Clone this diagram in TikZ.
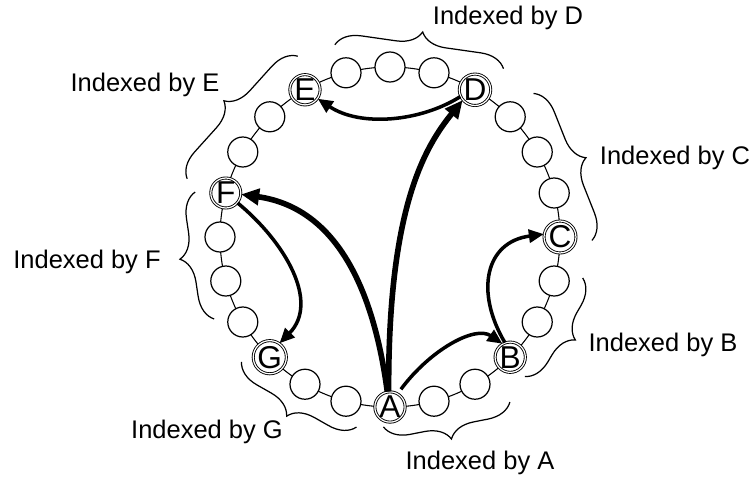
\documentclass[tikz,border=0pt]{standalone}
\usepackage{fontspec}
\setmainfont{Liberation Sans}
\usetikzlibrary{arrows.meta, decorations.pathreplacing}
\tikzset{
  peer/.style={
    circle, draw, fill=white, line width=0.7pt,
    minimum size=0.6cm, inner sep=0pt
  },
  keypeer/.style={
    peer, double, double distance=0.7pt, line width=0.5pt,
    font=\fontsize{18}{20}\selectfont
  },
  ringline/.style={line width=0.6pt},
  bigarrow/.style={line width=3.2pt, -{Triangle[length=0.36cm, width=0.32cm]}},
  arrow/.style={line width=2pt, -{Triangle[length=0.3cm, width=0.26cm]}},
  idxbrace/.style={decorate, decoration={brace, amplitude=0.5cm}, line width=0.7pt},
  idxlabel/.style={font=\fontsize{14.5}{17}\selectfont},
}

\begin{document}
\begin{tikzpicture}[x=0.02cm, y=0.02cm]
  \useasboundingbox (-390,-240) rectangle (363,237);
  \draw [ringline] (0,0) circle [radius=170];

  % plain peers on the ring
  \foreach \i in {1,2,4,5,7,8,9,11,12,13,15,16,18,19,20,22,23}
    \node [peer] (p\i) at ({-90+15*\i}:170) {};

  \node (A) [keypeer] at (-90:170) {A};
  \node (B) [keypeer] at (-45:170) {B};
  \node (C) [keypeer] at (0:170)   {C};
  \node (D) [keypeer] at (60:170)  {D};
  \node (E) [keypeer] at (120:170) {E};
  \node (F) [keypeer] at (165:170) {F};
  \node (G) [keypeer] at (225:170) {G};

  % lookups
  \draw [bigarrow] (A.95)  .. controls (-2,30) and (35,90)     .. (D.220);
  \draw [bigarrow] (A.100) .. controls (-18,-40) and (-60,30)  .. (F.-5);
  \draw [arrow]    (F.-40) .. controls (-105,-5) and (-70,-65) .. (G.55);
  \draw [arrow]    (D.205) .. controls (30,115) and (-30,110)  .. (E.-35);
  \draw [arrow, shorten <=3pt] (A.60) .. controls (40,-113) and (85,-88) .. (B.120);
  \draw [arrow]    (B.110) .. controls (85,-55) and (95,-5)    .. (C.170);

  % index ranges
  \foreach \from/\to in {-54:204/-92:190, -12:197/-46:194, 45:203/-1:202,
                         106:200/56:203, 164:211/117:203, 205:194/167:200,
                         260:193/220:194}
    \draw [idxbrace] (\from) -- (\to);

  \node (idxA) [idxlabel] at (90,-226)  {Indexed by A};
  \node (idxB) [idxlabel] at (273,-108) {Indexed by B};
  \node (idxC) [idxlabel] at (285,79)   {Indexed by C};
  \node (idxD) [idxlabel] at (118,219)  {Indexed by D};
  \node (idxE) [idxlabel] at (-245,152) {Indexed by E};
  \node (idxF) [idxlabel] at (-303,-25) {Indexed by F};
  \node (idxG) [idxlabel] at (-183,-195) {Indexed by G};
\end{tikzpicture}
\end{document}
